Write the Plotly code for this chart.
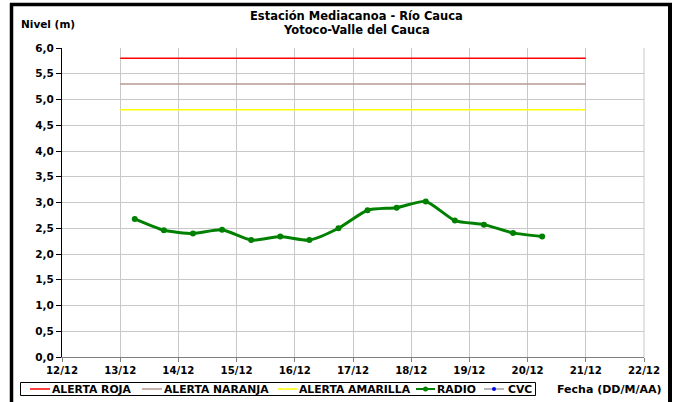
import plotly.graph_objects as go

# Data
fechas_radio = [
    "2020-12-13 06:00", "2020-12-13 18:00", "2020-12-14 06:00", "2020-12-14 18:00",
    "2020-12-15 06:00", "2020-12-15 18:00", "2020-12-16 06:00", "2020-12-16 18:00",
    "2020-12-17 06:00", "2020-12-17 18:00", "2020-12-18 06:00", "2020-12-18 18:00",
    "2020-12-19 06:00", "2020-12-19 18:00", "2020-12-20 06:00",
]
nivel_radio = [2.68, 2.46, 2.40, 2.47, 2.27, 2.34, 2.27, 2.50,
               2.85, 2.90, 3.02, 2.65, 2.57, 2.41, 2.34]
fechas_cvc = []
nivel_cvc = []
alerta_x = ["2020-12-13 00:00", "2020-12-21 00:00"]
alerta_roja = [5.8, 5.8]
alerta_naranja = [5.3, 5.3]
alerta_amarilla = [4.8, 4.8]
tick_fechas = ["2020-12-%02d" % d for d in range(12, 23)]
tick_labels = ["%d/12" % d for d in range(12, 23)]
y_ticks = [i * 0.5 for i in range(13)]
y_labels = [("%.1f" % v).replace(".", ",") for v in y_ticks]
series_names = ["ALERTA ROJA", "ALERTA NARANJA", "ALERTA AMARILLA", "RADIO", "CVC"]

FONT = "DejaVu Sans, sans-serif"
C_ROJA, C_NAR, C_AMA, C_RADIO, C_CVC_L, C_CVC_M = "#FF0000", "#B89890", "#FFFF00", "#008000", "#A0A0A0", "#0000FF"

fig = go.Figure()
fig.add_trace(go.Scatter(x=alerta_x, y=alerta_roja, mode="lines", name=series_names[0],
                         line=dict(color=C_ROJA, width=1.5)))
fig.add_trace(go.Scatter(x=alerta_x, y=alerta_naranja, mode="lines", name=series_names[1],
                         line=dict(color=C_NAR, width=1.5)))
fig.add_trace(go.Scatter(x=alerta_x, y=alerta_amarilla, mode="lines", name=series_names[2],
                         line=dict(color=C_AMA, width=1.5)))
fig.add_trace(go.Scatter(x=fechas_radio, y=nivel_radio, mode="lines+markers", name=series_names[3],
                         line=dict(color=C_RADIO, width=3, shape="spline", smoothing=0.6),
                         marker=dict(color=C_RADIO, size=6)))
fig.add_trace(go.Scatter(x=fechas_cvc, y=nivel_cvc, mode="lines+markers", name=series_names[4],
                         line=dict(color=C_CVC_L, width=1.5),
                         marker=dict(color=C_CVC_M, size=5)))

L, R, T, B = 62, 34, 48, 45
W, H = 678, 402
pw, ph = W - L - R, H - T - B

def px(x):
    return (x - L) / pw

def py(y):
    return (H - B - y) / ph

shapes = [
    dict(type="line", xref="paper", yref="paper", x0=1, x1=1, y0=0, y1=1,
         line=dict(color="#C8C8C8", width=1)),
    dict(type="line", xref="paper", yref="paper", x0=px(11.5), x1=px(11.5), y0=py(3), y1=py(410),
         line=dict(color="black", width=3.5)),
    dict(type="line", xref="paper", yref="paper", x0=px(10), x1=px(672), y0=py(4.5), y1=py(4.5),
         line=dict(color="black", width=3.5)),
    dict(type="line", xref="paper", yref="paper", x0=px(670), x1=px(670), y0=py(3), y1=py(410),
         line=dict(color="black", width=4)),
    # legend box
    dict(type="rect", xref="paper", yref="paper", x0=px(20.5), x1=px(535.5), y0=py(382.5), y1=py(395.5),
         line=dict(color="black", width=1), fillcolor="white"),
]

annotations = [
    dict(text="<b>Estación Mediacanoa - Río Cauca</b>", xref="paper", yref="paper",
         x=px(356), y=py(16), xanchor="center", yanchor="middle", showarrow=False,
         font=dict(family=FONT, size=11.5, color="black")),
    dict(text="<b>Yotoco-Valle del Cauca</b>", xref="paper", yref="paper",
         x=px(356), y=py(30), xanchor="center", yanchor="middle", showarrow=False,
         font=dict(family=FONT, size=11.5, color="black")),
    dict(text="<b>Nivel (m)</b>", xref="paper", yref="paper",
         x=px(19), y=py(24), xanchor="left", yanchor="middle", showarrow=False,
         font=dict(family=FONT, size=10.5, color="black")),
    dict(text="<b>Fecha (DD/M/AA)</b>", xref="paper", yref="paper",
         x=px(663), y=py(389), xanchor="right", yanchor="middle", showarrow=False,
         font=dict(family=FONT, size=11, color="black")),
]

# custom legend entries: (line x0, line x1, text x, line colour, marker colour)
leg_layout = [
    (30, 50, 50, C_ROJA, None),
    (142, 162, 162, C_NAR, None),
    (278, 297, 297, C_AMA, None),
    (416, 435, 435, C_RADIO, C_RADIO),
    (484, 504, 506, C_CVC_L, C_CVC_M),
]
ly = 389
for name, (x0, x1, tx, lc, mc) in zip(series_names, leg_layout):
    shapes.append(dict(type="line", xref="paper", yref="paper", x0=px(x0), x1=px(x1),
                       y0=py(ly), y1=py(ly), line=dict(color=lc, width=2 if mc == C_RADIO else 1.5)))
    if mc:
        cx = (x0 + x1) / 2
        r = 2.5 if mc == C_RADIO else 2
        shapes.append(dict(type="circle", xref="paper", yref="paper",
                           x0=px(cx - r), x1=px(cx + r), y0=py(ly - r), y1=py(ly + r),
                           line=dict(color=mc, width=0), fillcolor=mc))
    annotations.append(dict(text="<b>%s</b>" % name, xref="paper", yref="paper",
                            x=px(tx), y=py(ly), xanchor="left", yanchor="middle",
                            showarrow=False, xshift=0,
                            font=dict(family=FONT, size=10.8, color="black")))

fig.update_layout(
    width=W, height=H,
    margin=dict(l=L, r=R, t=T, b=B, pad=0, autoexpand=False),
    paper_bgcolor="white", plot_bgcolor="white",
    font=dict(family=FONT, size=11, color="black"),
    showlegend=False,
    xaxis=dict(
        type="date",
        range=["2020-12-12", "2020-12-22"],
        tickvals=tick_fechas, ticktext=["<b>%s</b>" % t for t in tick_labels],
        showgrid=True, gridcolor="#C8C8C8", gridwidth=1,
        showline=True, linecolor="#808080", linewidth=1,
        ticks="outside", ticklen=4, tickcolor="#808080",
        tickfont=dict(family=FONT, size=10.2, color="black"),
        mirror=False, zeroline=False,
    ),
    yaxis=dict(
        range=[0, 6],
        tickvals=y_ticks, ticktext=["<b>%s</b>" % t for t in y_labels],
        showgrid=True, gridcolor="#C8C8C8", gridwidth=1,
        showline=True, linecolor="black", linewidth=1,
        ticks="outside", ticklen=5, tickcolor="black",
        tickfont=dict(family=FONT, size=10.5, color="black"),
        zeroline=False,
    ),
    shapes=shapes,
    annotations=annotations,
)

fig.write_html("out.html", config={"displayModeBar": False},
               post_script="document.body.style.margin='0';")
